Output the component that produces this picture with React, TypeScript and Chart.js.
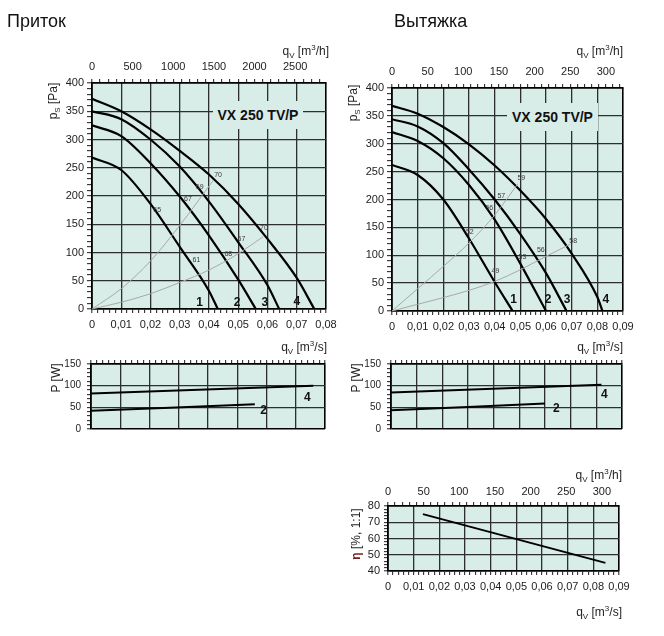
import React, { useEffect, useRef } from 'react';
import { Chart, registerables } from 'chart.js';

Chart.register(...registerables);

const W = 664;
const H = 636;
const FONT = '"Liberation Sans", Arial, Helvetica, sans-serif';
const BG = '#d8ece8';
const GRID = '#2e2e2e';

// ---------- tick labels ----------
const pressureTicks = [0, 50, 100, 150, 200, 250, 300, 350, 400];
const powerTicks = [0, 50, 100, 150];
const effTicks = [40, 50, 60, 70, 80];
const supplyFlowTicks = [0, 0.01, 0.02, 0.03, 0.04, 0.05, 0.06, 0.07, 0.08];
const exhaustFlowTicks = [0, 0.01, 0.02, 0.03, 0.04, 0.05, 0.06, 0.07, 0.08, 0.09];
const supplyHourTicks = [0, 500, 1000, 1500, 2000, 2500];
const exhaustHourTicks = [0, 50, 100, 150, 200, 250, 300];
const supplyHourMax = 2880;
const exhaustHourMax = 324;

// ---------- Приток (supply) ----------
const supplyQ1 = [0, 0.01, 0.02, 0.03, 0.04, 0.043];
const supplyP1 = [268, 246, 186, 110, 32, 0];
const supplyQ2 = [0, 0.01, 0.02, 0.03, 0.04, 0.05, 0.056];
const supplyP2 = [325, 306, 258, 199, 130, 52, 0];
const supplyQ3 = [0, 0.01, 0.02, 0.03, 0.04, 0.05, 0.06, 0.064];
const supplyP3 = [350, 336, 300, 252, 190, 118, 42, 0];
const supplyQ4 = [0, 0.01, 0.02, 0.03, 0.04, 0.05, 0.06, 0.07, 0.076];
const supplyP4 = [372, 350, 318, 280, 238, 186, 124, 55, 0];
const supplySysHiQ = [0, 0.01, 0.02, 0.03, 0.0415];
const supplySysHiP = [0, 36, 85, 148, 228];
const supplySysLoQ = [0, 0.01, 0.02, 0.03, 0.04, 0.05, 0.0585];
const supplySysLoP = [0, 12, 27, 47, 69, 98, 128];
const supplyMarkText = ['65', '67', '69', '70', '61', '68', '67', '70'];
const supplyMarkQ = [0.0223, 0.0328, 0.0368, 0.0431, 0.0357, 0.0466, 0.0511, 0.0588];
const supplyMarkP = [175, 194, 216, 237, 86, 98, 124, 143];
const supplyCurveText = ['1', '2', '3', '4'];
const supplyCurveQ = [0.0368, 0.0496, 0.0591, 0.07];
const supplyCurveP = [12, 12, 12, 13];
const supplyPowQ4 = [0, 0.076];
const supplyPow4 = [82, 100];
const supplyPowQ2 = [0, 0.056];
const supplyPow2 = [42, 57];
const supplyPowText = ['4', '2'];
const supplyPowTextQ = [0.074, 0.059];
const supplyPowTextP = [73, 42];

// ---------- Вытяжка (exhaust) ----------
const exhaustQ1 = [0, 0.01, 0.02, 0.03, 0.04, 0.047];
const exhaustP1 = [262, 244, 200, 130, 52, 0];
const exhaustQ2 = [0, 0.01, 0.02, 0.03, 0.04, 0.05, 0.06];
const exhaustP2 = [321, 305, 274, 226, 164, 85, 0];
const exhaustQ3 = [0, 0.01, 0.02, 0.03, 0.04, 0.05, 0.06, 0.068];
const exhaustP3 = [344, 331, 301, 254, 200, 138, 68, 0];
const exhaustQ4 = [0, 0.01, 0.02, 0.03, 0.04, 0.05, 0.06, 0.07, 0.08, 0.082];
const exhaustP4 = [368, 354, 330, 299, 261, 216, 165, 103, 25, 0];
const exhaustSysHiQ = [0, 0.01, 0.02, 0.03, 0.04, 0.049];
const exhaustSysHiP = [0, 40, 80, 122, 172, 228];
const exhaustSysLoQ = [0, 0.01, 0.02, 0.03, 0.04, 0.05, 0.06, 0.0695];
const exhaustSysLoP = [0, 12, 24, 37, 53, 74, 98, 120];
const exhaustMarkText = ['52', '56', '57', '59', '49', '53', '56', '58'];
const exhaustMarkQ = [0.0303, 0.0379, 0.0426, 0.0504, 0.0403, 0.0508, 0.058, 0.0706];
const exhaustMarkP = [142, 184, 206, 239, 71, 96, 109, 125];
const exhaustCurveText = ['1', '2', '3', '4'];
const exhaustCurveQ = [0.0474, 0.0608, 0.0682, 0.0833];
const exhaustCurveP = [20, 20, 20, 20];
const exhaustPowQ4 = [0, 0.082];
const exhaustPow4 = [84, 102];
const exhaustPowQ2 = [0, 0.06];
const exhaustPow2 = [43, 59];
const exhaustPowText = ['4', '2'];
const exhaustPowTextQ = [0.0831, 0.0644];
const exhaustPowTextP = [80, 48];

// ---------- efficiency ----------
const effQ = [0.0136, 0.0847];
const effEta = [75, 45];

// ---------- helpers ----------
type AxisSpec = {
  position: 'left' | 'top' | 'bottom';
  min: number;
  max: number;
  majors: number[];
  minor: number;
  labels: boolean;
  grid: boolean;
  size: number;
  tickLen: number;
  pad: number;
  fontSize: number;
  fmt: (v: number) => string;
};

const isMajor = (v: number, majors: number[]) => majors.some((m) => Math.abs(m - v) < 1e-9);
const commaFmt = (v: number) => (Math.abs(v) < 1e-12 ? '0' : v.toFixed(2).replace('.', ','));
const intFmt = (v: number) => String(Math.round(v));

function steps(min: number, max: number, step: number) {
  const n = Math.floor((max - min) / step + 1e-9);
  const out: number[] = [];
  for (let i = 0; i <= n; i++) out.push(Number((min + i * step).toFixed(6)));
  return out;
}

function axis(a: AxisSpec, axisName: 'x' | 'y') {
  const horizontal = a.position !== 'left';
  const edge = (v: number) => Math.abs(v - a.min) < 1e-9 || Math.abs(v - a.max) < 1e-9;
  return {
    type: 'linear',
    axis: axisName,
    position: a.position,
    min: a.min,
    max: a.max,
    afterBuildTicks: (s: any) => {
      s.ticks = steps(a.min, a.max, a.minor).map((v) => ({ value: v }));
    },
    afterFit: (s: any) => {
      if (horizontal) s.height = a.size;
      else s.width = a.size;
    },
    ticks: {
      display: a.labels,
      autoSkip: false,
      maxRotation: 0,
      minRotation: 0,
      padding: a.pad,
      color: '#1c1c1c',
      font: { family: FONT, size: a.fontSize },
      callback: (v: any) => (isMajor(Number(v), a.majors) ? a.fmt(Number(v)) : ''),
    },
    grid: {
      drawOnChartArea: a.grid,
      drawTicks: true,
      tickLength: a.tickLen,
      tickColor: '#1a1a1a',
      tickWidth: 1,
      color: (ctx: any) => {
        const v = ctx.tick ? ctx.tick.value : null;
        if (v == null) return 'rgba(0,0,0,0)';
        if (edge(v)) return '#000';
        return isMajor(v, a.majors) ? GRID : 'rgba(0,0,0,0)';
      },
      lineWidth: (ctx: any) => {
        const v = ctx.tick ? ctx.tick.value : null;
        return v != null && edge(v) ? 1.6 : 1.3;
      },
    },
    border: { display: true, color: '#000', width: 1.6 },
  };
}

const series = (q: number[], p: number[], color: string, width: number) => ({
  data: q.map((x, i) => ({ x, y: p[i] })),
  borderColor: color,
  borderWidth: width,
  pointRadius: 0,
  fill: false,
  cubicInterpolationMode: 'monotone',
  xAxisID: 'x',
  yAxisID: 'y',
});

type Lbl = { text: string[]; q: number[]; p: number[]; font: string; color: string };

const bgPlugin = {
  id: 'plotBg',
  beforeDraw(chart: any) {
    const { ctx, chartArea: a } = chart;
    ctx.save();
    ctx.fillStyle = BG;
    ctx.fillRect(a.left, a.top, a.right - a.left, a.bottom - a.top);
    ctx.restore();
  },
};

function labelPlugin(groups: Lbl[]) {
  return {
    id: 'markLabels',
    afterDatasetsDraw(chart: any) {
      const { ctx } = chart;
      const xs = chart.scales.x;
      const ys = chart.scales.y;
      ctx.save();
      groups.forEach((g) => {
        ctx.font = g.font;
        ctx.fillStyle = g.color;
        ctx.textAlign = 'center';
        ctx.textBaseline = 'middle';
        g.text.forEach((t, i) => ctx.fillText(t, xs.getPixelForValue(g.q[i]), ys.getPixelForValue(g.p[i])));
      });
      ctx.restore();
    },
  };
}

type Spec = {
  area: { left: number; top: number; right: number; bottom: number };
  x: AxisSpec;
  x2?: AxisSpec;
  y: AxisSpec;
  datasets: any[];
  labels: Lbl[];
};

function buildConfig(spec: Spec): any {
  const scales: any = { x: axis(spec.x, 'x'), y: axis(spec.y, 'y') };
  if (spec.x2) scales.x2 = axis(spec.x2, 'x');
  const topSize =
    (spec.x.position === 'top' ? spec.x.size : 0) + (spec.x2 && spec.x2.position === 'top' ? spec.x2.size : 0);
  const bottomSize = spec.x.position === 'bottom' ? spec.x.size : 0;
  const a = spec.area;
  return {
    type: 'line',
    data: { datasets: spec.datasets },
    options: {
      responsive: false,
      animation: false,
      devicePixelRatio: 1,
      events: [],
      layout: {
        padding: {
          left: a.left - spec.y.size,
          top: a.top - topSize,
          right: W - a.right,
          bottom: H - a.bottom - bottomSize,
        },
      },
      plugins: { legend: { display: false }, tooltip: { enabled: false } },
      scales,
    },
    plugins: [bgPlugin, labelPlugin(spec.labels)],
  };
}

const markFont = `7px ${FONT}`;
const numFont = `bold 12px ${FONT}`;

function pressureSpec(
  area: Spec['area'],
  flowMax: number,
  flowTicks: number[],
  hourMax: number,
  hourTicks: number[],
  hourMinor: number,
  curves: [number[], number[]][],
  sys: [number[], number[]][],
  marks: [string[], number[], number[]],
  nums: [string[], number[], number[]]
): Spec {
  return {
    area,
    x: { position: 'bottom', min: 0, max: flowMax, majors: flowTicks, minor: 0.002, labels: true, grid: true, size: 26, tickLen: 4, pad: 5, fontSize: 11, fmt: commaFmt },
    x2: { position: 'top', min: 0, max: hourMax, majors: hourTicks, minor: hourMinor, labels: true, grid: false, size: 26, tickLen: 4, pad: 5, fontSize: 11, fmt: intFmt },
    y: { position: 'left', min: 0, max: 400, majors: pressureTicks, minor: 10, labels: true, grid: true, size: 34, tickLen: 5, pad: 3, fontSize: 11, fmt: intFmt },
    datasets: [
      ...sys.map(([q, p]) => series(q, p, '#a9a9a9', 1)),
      ...curves.map(([q, p]) => series(q, p, '#000', 2.2)),
    ],
    labels: [
      { text: marks[0], q: marks[1], p: marks[2], font: markFont, color: '#3a3a3a' },
      { text: nums[0], q: nums[1], p: nums[2], font: numFont, color: '#111' },
    ],
  };
}

function powerSpec(
  area: Spec['area'],
  flowMax: number,
  flowTicks: number[],
  lines: [number[], number[]][],
  nums: [string[], number[], number[]]
): Spec {
  return {
    area,
    x: { position: 'top', min: 0, max: flowMax, majors: flowTicks, minor: 0.002, labels: false, grid: true, size: 4, tickLen: 4, pad: 0, fontSize: 10, fmt: commaFmt },
    y: { position: 'left', min: 0, max: 150, majors: powerTicks, minor: 10, labels: true, grid: true, size: 34, tickLen: 4, pad: 6, fontSize: 10, fmt: intFmt },
    datasets: lines.map(([q, p]) => series(q, p, '#000', 2)),
    labels: [{ text: nums[0], q: nums[1], p: nums[2], font: numFont, color: '#111' }],
  };
}

const specs: Spec[] = [
  pressureSpec(
    { left: 92, top: 83, right: 326, bottom: 309 },
    0.08,
    supplyFlowTicks,
    supplyHourMax,
    supplyHourTicks,
    100,
    [
      [supplyQ1, supplyP1],
      [supplyQ2, supplyP2],
      [supplyQ3, supplyP3],
      [supplyQ4, supplyP4],
    ],
    [
      [supplySysHiQ, supplySysHiP],
      [supplySysLoQ, supplySysLoP],
    ],
    [supplyMarkText, supplyMarkQ, supplyMarkP],
    [supplyCurveText, supplyCurveQ, supplyCurveP]
  ),
  pressureSpec(
    { left: 392, top: 88, right: 623, bottom: 311 },
    0.09,
    exhaustFlowTicks,
    exhaustHourMax,
    exhaustHourTicks,
    10,
    [
      [exhaustQ1, exhaustP1],
      [exhaustQ2, exhaustP2],
      [exhaustQ3, exhaustP3],
      [exhaustQ4, exhaustP4],
    ],
    [
      [exhaustSysHiQ, exhaustSysHiP],
      [exhaustSysLoQ, exhaustSysLoP],
    ],
    [exhaustMarkText, exhaustMarkQ, exhaustMarkP],
    [exhaustCurveText, exhaustCurveQ, exhaustCurveP]
  ),
  powerSpec(
    { left: 91, top: 364, right: 325, bottom: 429 },
    0.08,
    supplyFlowTicks,
    [
      [supplyPowQ4, supplyPow4],
      [supplyPowQ2, supplyPow2],
    ],
    [supplyPowText, supplyPowTextQ, supplyPowTextP]
  ),
  powerSpec(
    { left: 391, top: 364, right: 622, bottom: 429 },
    0.09,
    exhaustFlowTicks,
    [
      [exhaustPowQ4, exhaustPow4],
      [exhaustPowQ2, exhaustPow2],
    ],
    [exhaustPowText, exhaustPowTextQ, exhaustPowTextP]
  ),
  {
    area: { left: 388, top: 506, right: 619, bottom: 571 },
    x: { position: 'bottom', min: 0, max: 0.09, majors: exhaustFlowTicks, minor: 0.002, labels: true, grid: true, size: 26, tickLen: 4, pad: 5, fontSize: 11, fmt: commaFmt },
    x2: { position: 'top', min: 0, max: exhaustHourMax, majors: exhaustHourTicks, minor: 10, labels: true, grid: false, size: 26, tickLen: 4, pad: 3, fontSize: 11, fmt: intFmt },
    y: { position: 'left', min: 40, max: 80, majors: effTicks, minor: 2, labels: true, grid: true, size: 34, tickLen: 4, pad: 4, fontSize: 11, fmt: intFmt },
    datasets: [series(effQ, effEta, '#000', 2)],
    labels: [],
  },
];

function ChartCanvas({ spec }: { spec: Spec }) {
  const ref = useRef<HTMLCanvasElement | null>(null);
  useEffect(() => {
    if (!ref.current) return;
    const chart = new Chart(ref.current, buildConfig(spec));
    return () => chart.destroy();
  }, [spec]);
  return (
    <canvas
      ref={ref}
      width={W}
      height={H}
      style={{ position: 'absolute', left: 0, top: 0, width: W, height: H }}
    />
  );
}

const textBase: React.CSSProperties = {
  position: 'absolute',
  fontFamily: FONT,
  color: '#1e1e1e',
  whiteSpace: 'nowrap',
};

function QTitle({ unit, right, baseline }: { unit: string; right: number; baseline: number }) {
  return (
    <div style={{ ...textBase, right: W - right, top: baseline - 10, fontSize: 12, lineHeight: '12px' }}>
      q<span style={{ fontSize: 8, position: 'relative', top: 3 }}>V</span>
      {'  ['}m<span style={{ fontSize: 8, position: 'relative', top: -5 }}>3</span>/{unit}]
    </div>
  );
}

function VTitle({ cx, cy, children }: { cx: number; cy: number; children: React.ReactNode }) {
  return (
    <div
      style={{
        ...textBase,
        left: cx,
        top: cy,
        fontSize: 12,
        lineHeight: '12px',
        transform: 'translate(-50%, -50%) rotate(-90deg)',
      }}
    >
      {children}
    </div>
  );
}

function ModelBox({ left, top, width }: { left: number; top: number; width: number }) {
  return (
    <div
      style={{
        ...textBase,
        left,
        top,
        width,
        height: 28,
        background: BG,
        display: 'flex',
        alignItems: 'center',
        justifyContent: 'center',
        fontSize: 14,
        fontWeight: 'bold',
        color: '#111',
      }}
    >
      VX 250 TV/P
    </div>
  );
}

export default function App() {
  return (
    <div style={{ position: 'absolute', left: 0, top: 0, width: W, height: H, background: '#fff', overflow: 'hidden' }}>
      {specs.map((s, i) => (
        <ChartCanvas key={i} spec={s} />
      ))}
      <div style={{ ...textBase, left: 7, top: 12, fontSize: 18, lineHeight: '18px', color: '#111' }}>Приток</div>
      <div style={{ ...textBase, left: 394, top: 12, fontSize: 18, lineHeight: '18px', color: '#111' }}>Вытяжка</div>

      <QTitle unit="h" right={329} baseline={55} />
      <QTitle unit="h" right={623} baseline={55} />
      <QTitle unit="s" right={327} baseline={351} />
      <QTitle unit="s" right={623} baseline={351} />
      <QTitle unit="h" right={622} baseline={479} />
      <QTitle unit="s" right={622} baseline={616} />

      <VTitle cx={54} cy={101}>
        p<span style={{ fontSize: 8, position: 'relative', top: 3 }}>S</span> [Pa]
      </VTitle>
      <VTitle cx={354} cy={103}>
        p<span style={{ fontSize: 8, position: 'relative', top: 3 }}>S</span> [Pa]
      </VTitle>
      <VTitle cx={56} cy={378}>P [W]</VTitle>
      <VTitle cx={356} cy={378}>P [W]</VTitle>
      <VTitle cx={356} cy={534}>
        <span style={{ color: '#7a1a1a', fontWeight: 'bold' }}>η</span> [%, 1:1]
      </VTitle>

      <ModelBox left={213} top={101} width={90} />
      <ModelBox left={507} top={103} width={91} />
    </div>
  );
}
